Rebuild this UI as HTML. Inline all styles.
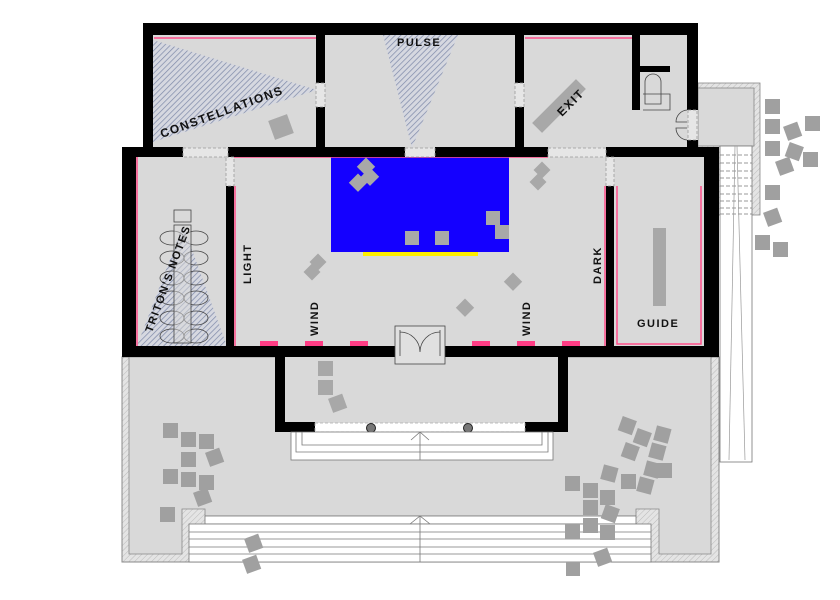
<!DOCTYPE html>
<html><head><meta charset="utf-8"><style>
html,body{margin:0;padding:0;background:#fff;width:840px;height:600px;overflow:hidden}
text{font-family:"Liberation Sans",sans-serif;font-weight:bold;fill:#111;letter-spacing:1.5px}
</style></head><body>
<svg width="840" height="600" viewBox="0 0 840 600" xmlns="http://www.w3.org/2000/svg">
<defs>
<pattern id="h" width="4" height="4" patternUnits="userSpaceOnUse" patternTransform="rotate(45)">
<rect width="4" height="4" fill="#d6d8e0"/><line x1="0" y1="0" x2="0" y2="4" stroke="#7d88a8" stroke-width="1.4"/></pattern>
<pattern id="g" width="4" height="4" patternUnits="userSpaceOnUse" patternTransform="rotate(45)">
<rect width="4" height="4" fill="#e4e4e4"/><line x1="0" y1="0" x2="0" y2="4" stroke="#bbb" stroke-width="1"/></pattern>
</defs>
<!-- terrace -->
<rect x="122" y="357" width="597" height="205" fill="url(#g)" stroke="#888" stroke-width="1"/>
<path d="M129 357 V554 H182 V509 H205 V516 H636 V509 H659 V554 H711 V357 Z" fill="#d9d9d9" stroke="#888" stroke-width="0.8"/>
<rect x="205" y="516" width="431" height="8" fill="#fff" stroke="#777" stroke-width="0.8"/>
<rect x="189" y="524" width="462" height="38" fill="#fff" stroke="#777" stroke-width="0.8"/>
<g stroke="#777" stroke-width="0.8">
<line x1="189" y1="532" x2="651" y2="532"/><line x1="189" y1="539" x2="651" y2="539"/><line x1="189" y1="547" x2="651" y2="547"/><line x1="189" y1="554" x2="651" y2="554"/>
<line x1="420" y1="516" x2="420" y2="562"/><polyline points="410,524 420,516 430,524" fill="none"/>
</g>
<!-- right annex -->
<rect x="698" y="83" width="62" height="132" fill="url(#g)" stroke="#888" stroke-width="0.8"/>
<rect x="698" y="88" width="56" height="58" fill="#d9d9d9" stroke="#888" stroke-width="0.8"/>
<rect x="720" y="146" width="32" height="316" fill="#fff" stroke="#777" stroke-width="0.8"/>
<g stroke="#777" stroke-width="0.8" stroke-dasharray="4,2">
<line x1="720" y1="155" x2="752" y2="155"/><line x1="720" y1="163" x2="752" y2="163"/><line x1="720" y1="171" x2="752" y2="171"/><line x1="720" y1="178" x2="752" y2="178"/><line x1="720" y1="186" x2="752" y2="186"/><line x1="720" y1="194" x2="752" y2="194"/><line x1="720" y1="201" x2="752" y2="201"/><line x1="720" y1="208" x2="752" y2="208"/><line x1="720" y1="214" x2="752" y2="214"/>
</g>
<g stroke="#999" stroke-width="0.7"><line x1="735" y1="146" x2="729" y2="460"/><line x1="737" y1="146" x2="745" y2="460"/></g>
<!-- floors -->
<rect x="143" y="23" width="555" height="134" fill="#d9d9d9"/>
<rect x="122" y="147" width="597" height="210" fill="#d9d9d9"/>
<rect x="285" y="357" width="273" height="66" fill="#d9d9d9"/>
<!-- vestibule -->
<rect x="275" y="347" width="10" height="85"/><rect x="558" y="347" width="10" height="85"/>
<rect x="275" y="422" width="40" height="10"/><rect x="525" y="422" width="43" height="10"/>
<rect x="315" y="423" width="210" height="9" fill="#fff" stroke="#aaa" stroke-dasharray="3,2" stroke-width="0.8"/>
<circle cx="371" cy="428" r="4.5" fill="#777" stroke="#222"/><circle cx="468" cy="428" r="4.5" fill="#777" stroke="#222"/>
<g fill="none" stroke="#777" stroke-width="0.8">
<rect x="291" y="432" width="262" height="28" fill="#fff"/><polyline points="296,432 296,452 548,452 548,432"/><polyline points="302,432 302,445 542,445 542,432"/>
<line x1="420" y1="432" x2="420" y2="460"/><polyline points="411,440 420,432 429,440"/>
</g>
<!-- hatch triangles -->
<polygon points="153,40 317,90 153,142" fill="url(#h)"/>
<polygon points="383,35 458,35 412,148" fill="url(#h)"/>
<polygon points="183,225 137,346 227,346" fill="url(#h)"/>
<!-- pool -->
<rect x="331" y="157" width="178" height="95" fill="#1400ff"/>
<rect x="363" y="252" width="115" height="4" fill="#ffee00"/>
<!-- pink lines -->
<g stroke="#ff4f8a" stroke-width="1.5" fill="none">
<line x1="154" y1="38" x2="316" y2="38"/><line x1="525" y1="38" x2="632" y2="38"/>
<line x1="233" y1="157" x2="548" y2="157"/><line x1="137" y1="157" x2="137" y2="346"/>
<line x1="235" y1="186" x2="235" y2="346"/><line x1="605" y1="186" x2="605" y2="346"/>
<polyline points="617,186 617,344 701,344 701,186"/>
</g>
<g fill="#ff3d85"><rect x="260" y="341" width="18" height="5"/><rect x="305" y="341" width="18" height="5"/><rect x="350" y="341" width="18" height="5"/><rect x="472" y="341" width="18" height="5"/><rect x="517" y="341" width="18" height="5"/><rect x="562" y="341" width="18" height="5"/></g>
<!-- walls -->
<g fill="#000">
<rect x="143" y="23" width="555" height="12"/>
<rect x="143" y="23" width="10" height="125"/>
<rect x="316" y="35" width="9" height="48"/><rect x="316" y="107" width="9" height="42"/>
<rect x="515" y="35" width="9" height="48"/><rect x="515" y="107" width="9" height="42"/>
<rect x="632" y="35" width="8" height="75"/><rect x="640" y="66" width="30" height="6"/>
<rect x="687" y="23" width="11" height="87"/><rect x="687" y="140" width="11" height="10"/>
<rect x="122" y="147" width="61" height="10"/><rect x="228" y="147" width="177" height="10"/><rect x="435" y="147" width="113" height="10"/><rect x="606" y="147" width="113" height="10"/>
<rect x="122" y="147" width="14" height="210"/><rect x="704" y="147" width="15" height="210"/>
<rect x="226" y="186" width="8" height="160"/><rect x="606" y="186" width="8" height="160"/>
<rect x="122" y="346" width="273" height="11"/><rect x="445" y="346" width="274" height="11"/>
</g>
<!-- dashed doorways -->
<g fill="#e6e6e6" stroke="#999" stroke-width="0.8" stroke-dasharray="3,2">
<rect x="316" y="83" width="9" height="24"/><rect x="515" y="83" width="9" height="24"/>
<rect x="183" y="148" width="45" height="9"/><rect x="405" y="148" width="30" height="9"/><rect x="548" y="148" width="58" height="9"/>
<rect x="226" y="157" width="8" height="29"/><rect x="606" y="157" width="8" height="29"/>
<rect x="688" y="110" width="9" height="30"/>
</g>
<!-- doors -->
<g fill="none" stroke="#444" stroke-width="0.8">
<rect x="395" y="326" width="50" height="38" fill="#e0e0e0"/>
<path d="M400 330 V356 M440 330 V356 M400 332 A20 20 0 0 1 420 352 M440 332 A20 20 0 0 0 420 352"/>
<path d="M687 110 A12 12 0 0 0 676 122 L687 122 M687 140 A12 12 0 0 1 676 128 L687 128"/>
<path d="M645 104 V82 A8 8 0 0 1 661 82 V104 Z M643 94 H670 V110 H643"/>
<rect x="174" y="210" width="17" height="12"/>
<g><ellipse cx="172" cy="238" rx="12" ry="7"/><ellipse cx="196" cy="238" rx="12" ry="7"/><ellipse cx="172" cy="258" rx="12" ry="7"/><ellipse cx="196" cy="258" rx="12" ry="7"/><ellipse cx="172" cy="278" rx="12" ry="7"/><ellipse cx="196" cy="278" rx="12" ry="7"/><ellipse cx="172" cy="298" rx="12" ry="7"/><ellipse cx="196" cy="298" rx="12" ry="7"/><ellipse cx="172" cy="318" rx="12" ry="7"/><ellipse cx="196" cy="318" rx="12" ry="7"/><ellipse cx="172" cy="336" rx="12" ry="7"/><ellipse cx="196" cy="336" rx="12" ry="7"/></g>
<rect x="174" y="225" width="17" height="118" fill="#d9d9d9" fill-opacity="0.5"/>
</g>
<!-- gray items -->
<g fill="#a8a8a8">
<rect x="552" y="75" width="14" height="62" transform="rotate(45 559 106)"/>
<rect x="653" y="228" width="13" height="78"/>
<g transform="rotate(-20 281 127)"><rect x="271" y="117" width="20" height="20"/></g>
<rect x="360" y="160" width="13" height="13" transform="rotate(45 366 166)"/><rect x="352" y="176" width="13" height="13" transform="rotate(45 358 182)"/><rect x="364" y="170" width="13" height="13" transform="rotate(45 370 176)"/>
<rect x="405" y="231" width="14" height="14"/><rect x="435" y="231" width="14" height="14"/><rect x="486" y="211" width="14" height="14"/><rect x="495" y="225" width="14" height="14"/>
<rect x="536" y="164" width="12" height="12" transform="rotate(45 542 170)"/><rect x="532" y="176" width="12" height="12" transform="rotate(45 538 182)"/>
<rect x="312" y="256" width="12" height="12" transform="rotate(45 318 262)"/><rect x="306" y="266" width="12" height="12" transform="rotate(45 312 272)"/>
<rect x="507" y="275" width="13" height="13" transform="rotate(45 513 281)"/><rect x="459" y="301" width="13" height="13" transform="rotate(45 465 307)"/>
<rect x="318" y="361" width="15" height="15"/><rect x="318" y="380" width="15" height="15"/><rect x="330" y="396" width="15" height="15" transform="rotate(-20 337 403)"/>
</g>
<g fill="#a0a0a0">
<rect x="163" y="423" width="15" height="15"/><rect x="181" y="432" width="15" height="15"/><rect x="199" y="434" width="15" height="15"/><rect x="181" y="452" width="15" height="15"/><rect x="207" y="450" width="15" height="15" transform="rotate(-20 214 457)"/><rect x="163" y="469" width="15" height="15"/><rect x="181" y="472" width="15" height="15"/><rect x="199" y="475" width="15" height="15"/><rect x="195" y="490" width="15" height="15" transform="rotate(-20 202 497)"/><rect x="160" y="507" width="15" height="15"/>
<rect x="620" y="418" width="15" height="15" transform="rotate(20 627 425)"/><rect x="635" y="430" width="15" height="15" transform="rotate(20 642 437)"/><rect x="655" y="427" width="15" height="15" transform="rotate(15 662 434)"/><rect x="650" y="444" width="15" height="15" transform="rotate(15 657 451)"/><rect x="657" y="463" width="15" height="15"/><rect x="623" y="444" width="15" height="15" transform="rotate(20 630 451)"/><rect x="645" y="462" width="15" height="15" transform="rotate(15 652 469)"/><rect x="602" y="466" width="15" height="15" transform="rotate(15 609 473)"/><rect x="621" y="474" width="15" height="15"/><rect x="638" y="478" width="15" height="15" transform="rotate(15 645 485)"/>
<rect x="565" y="476" width="15" height="15"/><rect x="583" y="483" width="15" height="15"/><rect x="600" y="490" width="15" height="15"/><rect x="583" y="500" width="15" height="15"/><rect x="603" y="506" width="15" height="15" transform="rotate(20 610 513)"/><rect x="583" y="518" width="15" height="15"/><rect x="565" y="524" width="15" height="15"/><rect x="600" y="525" width="15" height="15"/><rect x="595" y="550" width="15" height="15" transform="rotate(-20 602 557)"/><rect x="566" y="562" width="14" height="14"/>
<rect x="246" y="536" width="15" height="15" transform="rotate(-20 253 543)"/><rect x="244" y="557" width="15" height="15" transform="rotate(-20 251 564)"/>
<rect x="765" y="99" width="15" height="15"/><rect x="765" y="119" width="15" height="15"/><rect x="785" y="124" width="15" height="15" transform="rotate(-20 792 131)"/><rect x="805" y="116" width="15" height="15"/><rect x="765" y="141" width="15" height="15"/><rect x="787" y="144" width="15" height="15" transform="rotate(20 794 151)"/><rect x="803" y="152" width="15" height="15"/><rect x="777" y="159" width="15" height="15" transform="rotate(-20 784 166)"/><rect x="765" y="185" width="15" height="15"/><rect x="765" y="210" width="15" height="15" transform="rotate(-20 772 217)"/><rect x="755" y="235" width="15" height="15"/><rect x="773" y="242" width="15" height="15"/>
</g>
<!-- labels -->
<text x="162" y="138" font-size="12" transform="rotate(-20 162 138)">CONSTELLATIONS</text>
<text x="397" y="46" font-size="11">PULSE</text>
<text x="562" y="117" font-size="12" transform="rotate(-45 562 117)">EXIT</text>
<text x="152" y="333" font-size="11" transform="rotate(-70 152 333)">TRITON’S NOTES</text>
<text x="251" y="284" font-size="11" transform="rotate(-90 251 284)">LIGHT</text>
<text x="318" y="336" font-size="11" transform="rotate(-90 318 336)">WIND</text>
<text x="530" y="336" font-size="11" transform="rotate(-90 530 336)">WIND</text>
<text x="601" y="284" font-size="11" transform="rotate(-90 601 284)">DARK</text>
<text x="637" y="327" font-size="11">GUIDE</text>
</svg>
</body></html>
